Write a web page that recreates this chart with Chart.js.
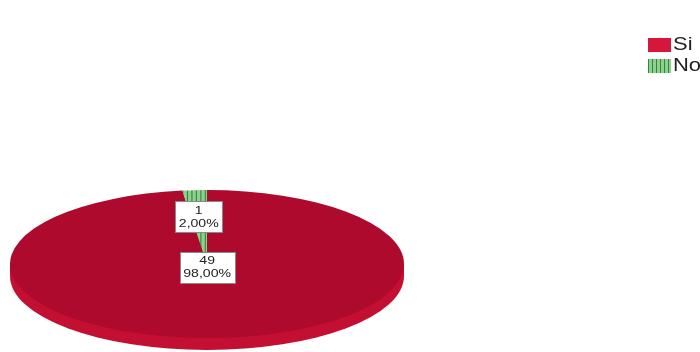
<!DOCTYPE html>
<html lang="es">
<head>
<meta charset="UTF-8">
<title>Si / No</title>
<script src="https://cdn.jsdelivr.net/npm/chart.js@4.4.0/dist/chart.umd.min.js"></script>
<style>
html, body { margin: 0; padding: 0; background: #fff; overflow: hidden; }
#wrap { position: relative; width: 700px; height: 352px; overflow: hidden; }
#chart { position: absolute; left: 0; top: 0; }
#legend { position: absolute; left: 648px; top: 34px; font-family: "Liberation Sans", Arial, sans-serif; font-size: 18px; color: #222; white-space: nowrap; }
.item { display: flex; align-items: center; height: 21px; }
.sw { width: 23px; height: 14px; margin-right: 2px; flex: none; }
.item span.t { display: inline-block; transform: scaleX(1.22); transform-origin: left center; }
</style>
</head>
<body>
<div id="wrap">
  <canvas id="chart" width="700" height="352"></canvas>
  <div id="legend"></div>
</div>
<script>
// data
const categories = ['Si', 'No'];
const counts = [49, 1];

// look
const faceColor = '#AE0A2D';
const sideColor = '#C30F31';
const legendRed = '#D6163A';
const greenDark = '#2E8A3A';
const greenLight = '#8ED08E';
// where the flattened pie sits on the page
const ELL = { cx: 207, cy: 264, rx: 197, ry: 74, depth: 12 };

const total = counts.reduce((a, b) => a + b, 0);
const percents = counts.map(c => (c / total * 100).toFixed(2).replace('.', ',') + '%');

function stripes() {
  const c = document.createElement('canvas');
  c.width = 4; c.height = 4;
  const g = c.getContext('2d');
  g.fillStyle = greenLight; g.fillRect(0, 0, 4, 4);
  g.fillStyle = greenDark; g.fillRect(0, 0, 1, 4);
  return g.createPattern(c, 'repeat');
}

// squash the round pie into a tilted disc with a bit of side
const pie3d = {
  id: 'pie3d',
  beforeDatasetsDraw(chart) {
    const ctx = chart.ctx;
    const arc = chart.getDatasetMeta(0).data[0];
    const e = ELL;
    ctx.save();
    ctx.fillStyle = sideColor;
    ctx.beginPath();
    ctx.ellipse(e.cx, e.cy + e.depth, e.rx, e.ry, 0, 0, Math.PI * 2);
    ctx.fill();
    ctx.fillRect(e.cx - e.rx, e.cy, e.rx * 2, e.depth);
    ctx.restore();

    ctx.save();
    ctx.translate(e.cx, e.cy);
    ctx.scale(e.rx / arc.outerRadius, e.ry / arc.outerRadius);
    ctx.translate(-arc.x, -arc.y);
  },
  afterDatasetsDraw(chart) {
    const ctx = chart.ctx;
    ctx.restore();
    const e = ELL;
    const stretch = 1.28;
    chart.getDatasetMeta(0).data.forEach((arc, i) => {
      const mid = (arc.startAngle + arc.endAngle) / 2;
      const half = (arc.endAngle - arc.startAngle) / 2;
      const k = 2 * Math.sin(half) / (3 * half); // centroid of the slice
      const px = e.cx + Math.cos(mid) * k * e.rx;
      const py = e.cy + Math.sin(mid) * k * e.ry + 2;
      const lines = [String(counts[i]), percents[i]];
      ctx.save();
      ctx.font = '11px "Liberation Sans", Arial, sans-serif';
      const w = Math.round(Math.max(...lines.map(l => ctx.measureText(l).width)) * stretch + 7);
      const h = 31;
      const x0 = Math.round(px - w / 2) + 0.5;
      const y0 = Math.round(py - h / 2) + 0.5;
      ctx.fillStyle = '#fff';
      ctx.fillRect(x0, y0, w, h);
      ctx.strokeStyle = '#8a8a8a';
      ctx.lineWidth = 1;
      ctx.strokeRect(x0, y0, w, h);
      ctx.translate(px, py);
      ctx.scale(stretch, 1);
      ctx.fillStyle = '#222';
      ctx.textAlign = 'center';
      ctx.textBaseline = 'middle';
      ctx.fillText(lines[0], 0, -6);
      ctx.fillText(lines[1], 0, 7);
      ctx.restore();
    });
  }
};

const ctx = document.getElementById('chart').getContext('2d');
new Chart(ctx, {
  type: 'pie',
  data: {
    labels: categories,
    datasets: [{
      data: counts,
      backgroundColor: [faceColor, stripes()],
      borderWidth: 0,
      clip: false
    }]
  },
  options: {
    responsive: false,
    animation: false,
    events: [],
    plugins: {
      legend: { display: false },
      tooltip: { enabled: false }
    }
  },
  plugins: [pie3d]
});

// legend on the right, clipped by the page edge like the original
const legend = document.getElementById('legend');
categories.forEach((name, i) => {
  const row = document.createElement('div');
  row.className = 'item';
  const sw = document.createElement('span');
  sw.className = 'sw';
  sw.style.background = i === 0 ? legendRed
    : 'repeating-linear-gradient(90deg, ' + greenDark + ' 0 1px, ' + greenLight + ' 1px 4px)';
  const t = document.createElement('span');
  t.className = 't';
  t.textContent = name;
  row.appendChild(sw);
  row.appendChild(t);
  legend.appendChild(row);
});
</script>
</body>
</html>
